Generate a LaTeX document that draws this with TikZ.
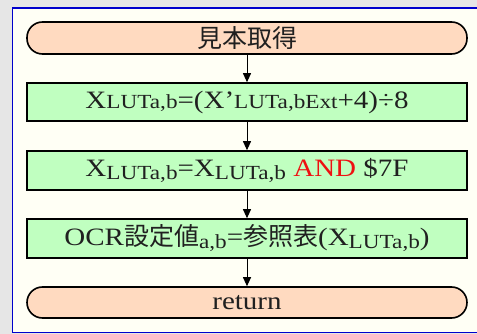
\documentclass[tikz,border=0pt]{standalone}
\usepackage{fontspec}
\setmainfont[FakeStretch=1.16]{Liberation Serif}
\newfontfamily\cjk{Noto Sans CJK JP}
\usetikzlibrary{arrows.meta}
\definecolor{bggray}{HTML}{E6E6E6}
\definecolor{panelfill}{HTML}{FFFFF5}
\definecolor{panelblue}{HTML}{0000CC}
\definecolor{peach}{HTML}{FFDAC0}
\definecolor{lgreen}{HTML}{C0FFC0}
\definecolor{txt}{HTML}{202020}
\definecolor{andred}{HTML}{EE1111}
\newcommand{\smlow}[1]{\raisebox{-0.12em}{\fontsize{20}{20}\selectfont #1}}
\newcommand{\smbase}[1]{{\fontsize{20}{20}\selectfont #1}}
\tikzset{
  term/.style={draw=black, line width=1.6pt, fill=peach, rounded corners=15.5pt,
    minimum width=440pt, minimum height=#1, inner sep=0pt, text=txt,
    font=\fontsize{25}{25}\selectfont},
  proc/.style={draw=black, line width=1.6pt, fill=lgreen,
    minimum width=440pt, minimum height=#1, inner sep=0pt, text=txt,
    font=\fontsize{25}{25}\selectfont},
  arr/.style={line width=1pt, -{Triangle[length=9pt,width=8pt]}}
}
\begin{document}
\begin{tikzpicture}[x=1pt,y=-1pt]
\useasboundingbox (0,0) rectangle (477,334);
\fill[bggray] (0,0) rectangle (477,334);
\draw[panelblue, line width=1.6pt, fill=panelfill] (12.5,8) rectangle (490,332.5);
\node[term=32pt] (t1) at (247,38) {\cjk 見本取得};
\node[proc=38pt] (b1) at (247,102) {X\smbase{LUTa,b}=(X'\smbase{LUTa,bExt}+4)÷8};
\node[proc=39pt] (b2) at (247,170.5) {X\smlow{LUTa,b}=X\smlow{LUTa,b} \textcolor{andred}{AND} \$7F};
\node[proc=39pt] (b3) at (247,238.5) {OCR{\cjk 設定値}\smlow{a,b}={\cjk 参照表}(X\smlow{LUTa,b})};
\node[term=31pt] (t2) at (247,302.5) {return};
\draw[arr] (t1) -- (b1);
\draw[arr] (b1) -- (b2);
\draw[arr] (b2) -- (b3);
\draw[arr] (b3) -- (t2);
\end{tikzpicture}
\end{document}
